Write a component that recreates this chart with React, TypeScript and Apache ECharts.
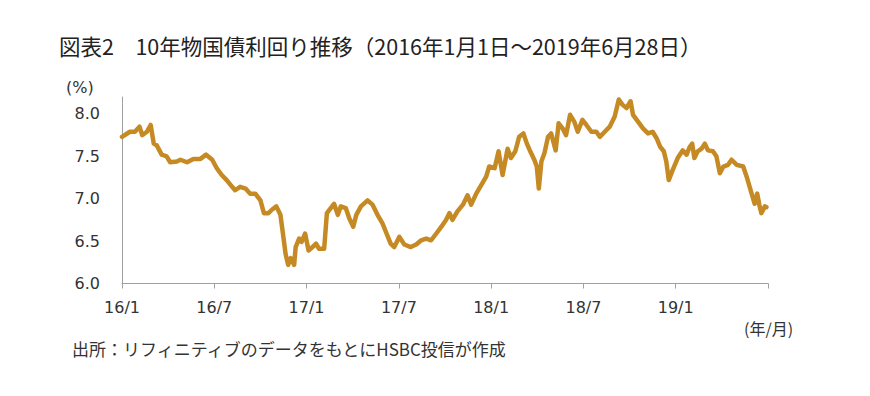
import React, { useEffect, useRef } from "react";
import * as echarts from "echarts";

const dates: string[] = [
  "2016-01-01","2016-01-17","2016-01-27","2016-02-05","2016-02-10","2016-02-19","2016-02-26","2016-03-03","2016-03-09","2016-03-19",
  "2016-03-29","2016-04-05","2016-04-18","2016-04-25","2016-05-08","2016-05-21","2016-06-04","2016-06-15","2016-06-27","2016-07-06",
  "2016-07-16","2016-07-26","2016-08-06","2016-08-12","2016-08-22","2016-09-02","2016-09-11","2016-09-21","2016-10-01","2016-10-08",
  "2016-10-17","2016-10-24","2016-11-02","2016-11-10","2016-11-14","2016-11-20","2016-11-25","2016-11-30","2016-12-07","2016-12-10",
  "2016-12-17","2016-12-22","2016-12-29","2017-01-05","2017-01-13","2017-01-20","2017-01-26","2017-02-05","2017-02-10","2017-02-17",
  "2017-02-23","2017-03-02","2017-03-08","2017-03-18","2017-03-25","2017-04-02","2017-04-08","2017-04-17","2017-04-30","2017-05-10",
  "2017-05-20","2017-05-30","2017-06-07","2017-06-15","2017-06-22","2017-07-02","2017-07-12","2017-07-25","2017-08-05","2017-08-15",
  "2017-08-25","2017-09-04","2017-09-14","2017-09-24","2017-10-03","2017-10-10","2017-10-16","2017-10-26","2017-11-06","2017-11-15",
  "2017-11-22","2017-12-02","2017-12-12","2017-12-22","2017-12-28","2018-01-08","2018-01-16","2018-01-24","2018-02-03","2018-02-09",
  "2018-02-17","2018-02-24","2018-03-04","2018-03-11","2018-03-17","2018-03-26","2018-03-31","2018-04-04","2018-04-09","2018-04-15",
  "2018-04-22","2018-04-28","2018-05-07","2018-05-13","2018-05-21","2018-05-28","2018-06-05","2018-06-13","2018-06-20","2018-06-29",
  "2018-07-07","2018-07-17","2018-07-27","2018-08-03","2018-08-13","2018-08-23","2018-09-02","2018-09-10","2018-09-17","2018-09-25",
  "2018-10-03","2018-10-08","2018-10-18","2018-10-28","2018-11-07","2018-11-16","2018-11-24","2018-12-01","2018-12-08","2018-12-13",
  "2018-12-18","2018-12-26","2019-01-05","2019-01-15","2019-01-23","2019-01-29","2019-02-03","2019-02-07","2019-02-13","2019-02-20",
  "2019-02-26","2019-03-04","2019-03-14","2019-03-21","2019-03-28","2019-04-04","2019-04-13","2019-04-20","2019-04-30","2019-05-13",
  "2019-05-20","2019-05-30","2019-06-05","2019-06-10","2019-06-14","2019-06-18","2019-06-25","2019-06-28"
];

const yields: number[] = [
  7.73,7.79,7.79,7.85,7.75,7.79,7.87,7.65,7.63,7.52,
  7.50,7.43,7.44,7.46,7.43,7.47,7.47,7.52,7.46,7.36,
  7.28,7.22,7.14,7.10,7.14,7.12,7.06,7.06,6.98,6.83,
  6.83,6.87,6.91,6.81,6.63,6.35,6.22,6.30,6.22,6.43,
  6.53,6.49,6.59,6.39,6.43,6.47,6.41,6.41,6.83,6.89,
  6.94,6.81,6.91,6.89,6.77,6.67,6.81,6.91,6.98,6.93,
  6.81,6.71,6.59,6.47,6.43,6.55,6.46,6.43,6.46,6.51,
  6.53,6.51,6.59,6.67,6.75,6.83,6.75,6.85,6.93,7.04,
  6.93,7.06,7.16,7.26,7.38,7.36,7.56,7.28,7.59,7.48,
  7.56,7.73,7.77,7.65,7.57,7.46,7.38,7.12,7.44,7.54,
  7.73,7.77,7.57,7.89,7.83,7.75,7.99,7.91,7.79,7.93,
  7.87,7.79,7.79,7.73,7.79,7.85,7.97,8.17,8.11,8.07,
  8.15,7.99,7.91,7.83,7.77,7.79,7.71,7.61,7.56,7.44,
  7.22,7.34,7.48,7.57,7.52,7.61,7.65,7.48,7.56,7.59,
  7.65,7.57,7.56,7.50,7.30,7.38,7.40,7.46,7.40,7.38,
  7.26,7.06,6.94,7.06,6.93,6.83,6.91,6.90
];

const tickLabels: string[] = ["16/1", "16/7", "17/1", "17/7", "18/1", "18/7", "19/1", ""];

const titleText = "図表2　10年物国債利回り推移（2016年1月1日～2019年6月28日）";
const unitText = "(%)";
const xUnitText = "(年/月)";
const sourceText = "出所：リフィニティブのデータをもとにHSBC投信が作成";

function monthOffset(s: string): number {
  const [y, m, d] = s.split("-").map(Number);
  const dim = new Date(y, m, 0).getDate();
  return (y - 2016) * 12 + (m - 1) + (d - 1) / dim;
}

export default function App() {
  const ref = useRef<HTMLDivElement>(null);
  useEffect(() => {
    if (!ref.current) return;
    const chart = echarts.init(ref.current, undefined, { renderer: "svg" });
    const data = dates.map((d, i) => [monthOffset(d), yields[i]]);
    const jp = "'Noto Sans CJK JP', 'Noto Sans', sans-serif";
    const num = "'DejaVu Sans', sans-serif";
    chart.setOption({
      animation: false,
      backgroundColor: "#ffffff",
      grid: { left: 122, right: 102, top: 97, bottom: 112.5 },
      xAxis: {
        type: "value",
        min: 0,
        max: 42,
        interval: 6,
        axisLine: { show: true, lineStyle: { color: "#a0a0a0", width: 1 } },
        axisTick: { show: true, length: 5, lineStyle: { color: "#a0a0a0" } },
        splitLine: { show: false },
        axisLabel: {
          margin: 16,
          color: "#333333",
          fontSize: 16,
          fontFamily: num,
          formatter: (v: number) => tickLabels[Math.round(v / 6)] ?? "",
        },
      },
      yAxis: {
        type: "value",
        min: 6,
        max: 8.2,
        interval: 0.5,
        axisLine: { show: true, lineStyle: { color: "#a0a0a0", width: 1 } },
        axisTick: { show: false },
        splitLine: { show: false },
        axisLabel: {
          margin: 22,
          color: "#333333",
          fontSize: 16,
          fontFamily: num,
          formatter: (v: number) => (v > 8.05 ? "" : v.toFixed(1)),
        },
      },
      series: [
        {
          type: "line",
          data,
          showSymbol: false,
          lineStyle: { color: "#C68A24", width: 4.5, join: "round", cap: "round" },
        },
      ],
      graphic: [
        {
          type: "text",
          left: 59,
          top: 35,
          style: { text: titleText, fontSize: 21.5, fill: "#222222", fontFamily: jp },
        },
        {
          type: "text",
          left: 66,
          top: 79,
          style: { text: unitText, fontSize: 16, fill: "#333333", fontFamily: num },
        },
        {
          type: "text",
          left: 744,
          top: 320,
          style: { text: xUnitText, fontSize: 16, fill: "#333333", fontFamily: jp },
        },
        {
          type: "text",
          left: 72,
          top: 340,
          style: { text: sourceText, fontSize: 17, fill: "#333333", fontFamily: jp },
        },
      ],
    });
    return () => chart.dispose();
  }, []);
  return <div ref={ref} style={{ width: 870, height: 396, position: "absolute", left: 0, top: 0 }} />;
}
